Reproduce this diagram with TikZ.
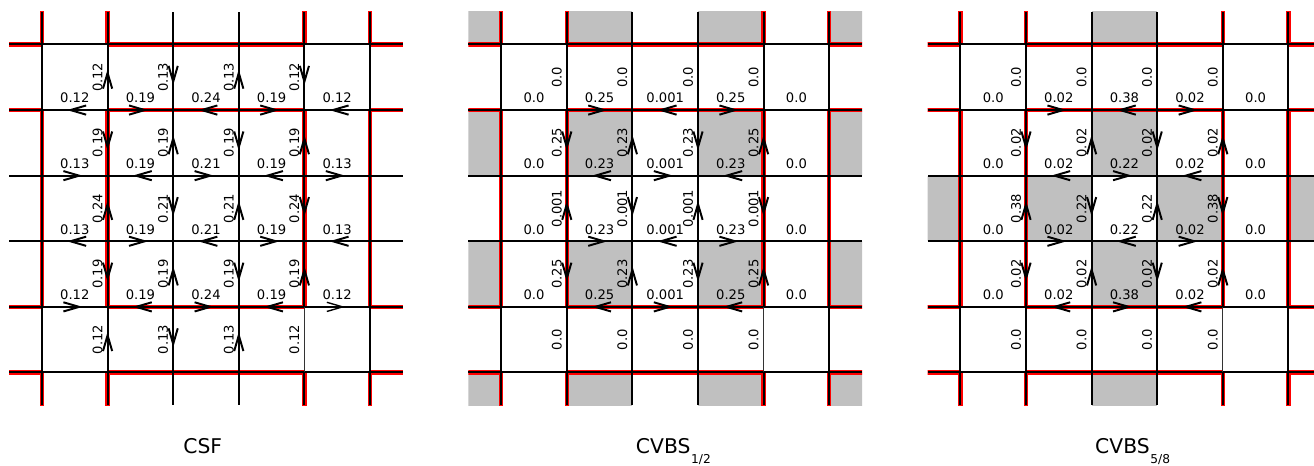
\documentclass[tikz,border=0pt]{standalone}
\usepackage{fontspec}
\setmainfont{DejaVu Sans}
\usetikzlibrary{arrows.meta,decorations.markings}

\definecolor{cellgray}{HTML}{C0C0C0}

% lattice of one panel, #1 = link values of the lines 1 to 4
\newcommand{\fluxlattice}[1]{%
  % red block boundaries
  \begin{scope}
    \clip (-0.5,0.5) rectangle (5.5,-5.5);
    \foreach \r in {0,-1,-4,-5}
      \foreach \a in {-3,1,5}
        \draw[redline] (\a,\r) -- ++(3,0);
    \foreach \c in {0,1,4,5}
      \foreach \a in {3,-1,-5}
        \draw[redline] (\c,\a) -- ++(0,-3);
  \end{scope}
  % sites
  \foreach \i in {0,...,5}
    \foreach \j in {0,...,5}
      \coordinate (s\i\j) at (\i,-\j);
  % open ends
  \foreach \k in {0,...,5} {
    \draw[bond] (s0\k) -- ++(-0.5,0);
    \draw[bond] (s5\k) -- ++(0.5,0);
    \draw[bond] (s\k0) -- ++(0,0.5);
    \draw[bond] (s\k5) -- ++(0,-0.5);
  }
  % outer lines
  \foreach \m in {0,...,4} {
    \pgfmathtruncatemacro{\n}{\m+1}
    \draw[bond] (s\m0) -- (s\n0);
    \draw[bond] (s\m5) -- (s\n5);
    \draw[bond] (s0\m) -- (s0\n);
    \draw[bond] (s5\m) -- (s5\n);
  }
  % inner lines with currents
  \foreach \vals [count=\k] in {#1}
    \foreach \v [count=\m from 0] in \vals {
      \pgfmathtruncatemacro{\n}{\m+1}
      \pgfmathtruncatemacro{\p}{mod(\m+\k,2)}
      \pgfmathtruncatemacro{\corner}{and(\k==4,\m==4)}
      \ifdim\v pt>0pt \def\arr{flowarrow}\else\def\arr{}\fi
      % horizontal link on row \k
      \ifnum\corner=1 \def\bw{thinbond}\else\def\bw{bond}\fi
      \ifnum\p=0
        \draw[\bw,\arr] (s\m\k) -- (s\n\k);
      \else
        \draw[\bw,\arr] (s\n\k) -- (s\m\k);
      \fi
      \node[flux, anchor=south] (h\k\m) at (\m+0.5,-\k+0.1) {\v};
      % vertical link on column \k
      \ifnum\corner=1
        \draw[hairbond] (s\k\m) -- (s\k\n);
      \else
        \ifnum\p=0
          \draw[bond,\arr] (s\k\m) -- (s\k\n);
        \else
          \draw[bond,\arr] (s\k\n) -- (s\k\m);
        \fi
      \fi
      \node[flux, rotate=90, anchor=south] (v\k\m) at (\k-0.07,-\m-0.5) {\v};
    }
}

\begin{document}
\begin{tikzpicture}[
    bond/.style={line width=0.85pt},
    thinbond/.style={line width=0.6pt},
    hairbond/.style={line width=0.5pt, black!80},
    redline/.style={red, line width=1.9pt},
    flowarrow/.style={postaction={decorate, decoration={markings,
        mark=at position 0.5 with {\arrow[xshift=0.12cm]{Straight Barb[length=0.24cm,width=0.14cm]}}}}},
    flux/.style={font=\fontsize{5.7}{6}\selectfont, inner sep=0pt},
    paneltitle/.style={font=\fontsize{8.8}{10}\selectfont, inner sep=0pt, anchor=base}
  ]
  \useasboundingbox (-0.640,0.678) rectangle (19.39,-6.425);
  \clip (-0.640,0.678) rectangle (19.39,-6.425);

  % CSF
  \begin{scope}
    \fluxlattice{{0.12,0.19,0.24,0.19,0.12},{0.13,0.19,0.21,0.19,0.13},
                 {0.13,0.19,0.21,0.19,0.13},{0.12,0.19,0.24,0.19,0.12}}
    \node[paneltitle] (csf) at (2.45,-6.24) {CSF};
  \end{scope}

  % CVBS 1/2
  \begin{scope}[xshift=7cm]
    \begin{scope}
      \clip (-0.5,0.5) rectangle (5.5,-5.5);
      \foreach \c in {-1,1,3,5}
        \foreach \y in {1,-1,-3,-5}
          \fill[cellgray] (\c,\y) rectangle ++(1,-1);
    \end{scope}
    \fluxlattice{{0.0,0.25,0.001,0.25,0.0},{0.0,0.23,0.001,0.23,0.0},
                 {0.0,0.23,0.001,0.23,0.0},{0.0,0.25,0.001,0.25,0.0}}
    \node[paneltitle] (cvbsa) at (2.47,-6.24)
      {CVBS\rlap{\kern0.3pt\raisebox{-4.1pt}{\fontsize{5.3}{6}\selectfont 1/2}}};
  \end{scope}

  % CVBS 5/8
  \begin{scope}[xshift=14cm]
    \begin{scope}
      \clip (-0.5,0.5) rectangle (5.5,-5.5);
      \foreach \y in {1,-1,-3,-5}
        \fill[cellgray] (2,\y) rectangle ++(1,-1);
      \foreach \c in {-1,1,3,5}
        \fill[cellgray] (\c,-2) rectangle ++(1,-1);
    \end{scope}
    \fluxlattice{{0.0,0.02,0.38,0.02,0.0},{0.0,0.02,0.22,0.02,0.0},
                 {0.0,0.02,0.22,0.02,0.0},{0.0,0.02,0.38,0.02,0.0}}
    \node[paneltitle] (cvbsb) at (2.47,-6.24)
      {CVBS\rlap{\kern0.3pt\raisebox{-4.1pt}{\fontsize{5.3}{6}\selectfont 5/8}}};
  \end{scope}
\end{tikzpicture}
\end{document}
